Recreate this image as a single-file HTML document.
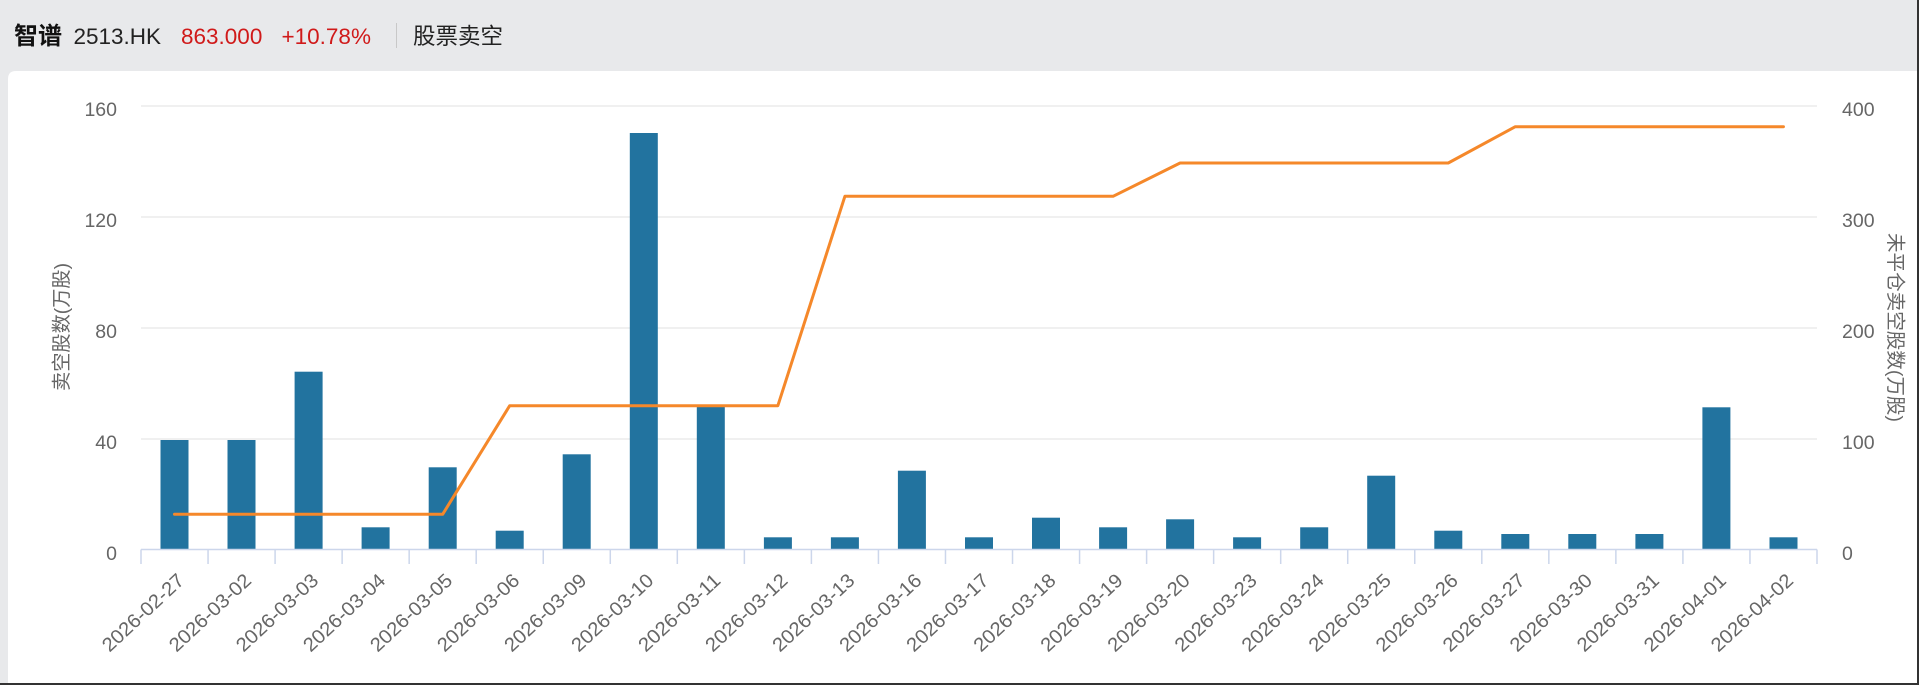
<!DOCTYPE html>
<html>
<head>
<meta charset="utf-8">
<style>
  html, body { margin: 0; padding: 0; background: #e8e9eb; }
  svg { display: block; }
  .hdr { font-family: "Liberation Sans", "Noto Sans CJK SC", sans-serif; }
  .ax { font-family: "Liberation Sans", "Noto Sans CJK SC", sans-serif; fill: #666666; }
</style>
</head>
<body>
<svg width="1919" height="685" viewBox="0 0 1919 685" xmlns="http://www.w3.org/2000/svg">
  <!-- background -->
  <rect x="0" y="0" width="1919" height="685" fill="#e8e9eb"/>
  <!-- card -->
  <path d="M8,79 Q8,71 16,71 L1917,71 L1917,685 L8,685 Z" fill="#ffffff"/>
  <!-- dark frame edges -->
  <rect x="1917" y="0" width="2" height="685" fill="#333333"/>
  <rect x="0" y="683" width="1919" height="2" fill="#333333"/>

  <!-- header -->
  <text class="hdr" x="14" y="44" font-size="24" font-weight="bold" fill="#111111">智谱</text>
  <text class="hdr" x="73.5" y="44" font-size="22.5" fill="#222222">2513.HK</text>
  <text class="hdr" x="181" y="44" font-size="22.5" fill="#d01a1a">863.000</text>
  <text class="hdr" x="281.5" y="44" font-size="22.5" fill="#d01a1a">+10.78%</text>
  <rect x="396" y="23" width="1" height="25" fill="#c8c8c8"/>
  <text class="hdr" x="413" y="44" font-size="22.5" fill="#222222">股票卖空</text>

  <!-- gridlines -->
  <g stroke="#e6e6e6" stroke-width="1.3">
    <line x1="141" y1="106" x2="1817" y2="106"/>
    <line x1="141" y1="217" x2="1817" y2="217"/>
    <line x1="141" y1="328" x2="1817" y2="328"/>
    <line x1="141" y1="439" x2="1817" y2="439"/>
  </g>

  <!-- bars -->
  <g fill="#22739f">
    <rect x="160.5" y="440" width="28" height="109"/>
    <rect x="227.5" y="440" width="28" height="109"/>
    <rect x="294.6" y="371.7" width="28" height="177.3"/>
    <rect x="361.6" y="527.3" width="28" height="21.7"/>
    <rect x="428.7" y="467.3" width="28" height="81.7"/>
    <rect x="495.7" y="530.7" width="28" height="18.3"/>
    <rect x="562.7" y="454.3" width="28" height="94.7"/>
    <rect x="629.8" y="133" width="28" height="416"/>
    <rect x="696.8" y="406.7" width="28" height="142.3"/>
    <rect x="763.9" y="537.3" width="28" height="11.7"/>
    <rect x="830.9" y="537.3" width="28" height="11.7"/>
    <rect x="897.9" y="470.7" width="28" height="78.3"/>
    <rect x="965.0" y="537.3" width="28" height="11.7"/>
    <rect x="1032.0" y="517.7" width="28" height="31.3"/>
    <rect x="1099.1" y="527.3" width="28" height="21.7"/>
    <rect x="1166.1" y="519.3" width="28" height="29.7"/>
    <rect x="1233.1" y="537.3" width="28" height="11.7"/>
    <rect x="1300.2" y="527.3" width="28" height="21.7"/>
    <rect x="1367.2" y="475.7" width="28" height="73.3"/>
    <rect x="1434.3" y="530.7" width="28" height="18.3"/>
    <rect x="1501.3" y="534" width="28" height="15"/>
    <rect x="1568.3" y="534" width="28" height="15"/>
    <rect x="1635.4" y="534" width="28" height="15"/>
    <rect x="1702.4" y="407.3" width="28" height="141.7"/>
    <rect x="1769.5" y="537.3" width="28" height="11.7"/>
  </g>

  <!-- x axis line and ticks -->
  <g stroke="#ccd6eb" stroke-width="1.5">
    <line x1="141" y1="549.5" x2="1817" y2="549.5"/>
    <line x1="141" y1="549.5" x2="141" y2="564"/>
    <line x1="208.04" y1="549.5" x2="208.04" y2="564"/>
    <line x1="275.08" y1="549.5" x2="275.08" y2="564"/>
    <line x1="342.12" y1="549.5" x2="342.12" y2="564"/>
    <line x1="409.16" y1="549.5" x2="409.16" y2="564"/>
    <line x1="476.2" y1="549.5" x2="476.2" y2="564"/>
    <line x1="543.24" y1="549.5" x2="543.24" y2="564"/>
    <line x1="610.28" y1="549.5" x2="610.28" y2="564"/>
    <line x1="677.32" y1="549.5" x2="677.32" y2="564"/>
    <line x1="744.36" y1="549.5" x2="744.36" y2="564"/>
    <line x1="811.4" y1="549.5" x2="811.4" y2="564"/>
    <line x1="878.44" y1="549.5" x2="878.44" y2="564"/>
    <line x1="945.48" y1="549.5" x2="945.48" y2="564"/>
    <line x1="1012.52" y1="549.5" x2="1012.52" y2="564"/>
    <line x1="1079.56" y1="549.5" x2="1079.56" y2="564"/>
    <line x1="1146.6" y1="549.5" x2="1146.6" y2="564"/>
    <line x1="1213.64" y1="549.5" x2="1213.64" y2="564"/>
    <line x1="1280.68" y1="549.5" x2="1280.68" y2="564"/>
    <line x1="1347.72" y1="549.5" x2="1347.72" y2="564"/>
    <line x1="1414.76" y1="549.5" x2="1414.76" y2="564"/>
    <line x1="1481.8" y1="549.5" x2="1481.8" y2="564"/>
    <line x1="1548.84" y1="549.5" x2="1548.84" y2="564"/>
    <line x1="1615.88" y1="549.5" x2="1615.88" y2="564"/>
    <line x1="1682.92" y1="549.5" x2="1682.92" y2="564"/>
    <line x1="1749.96" y1="549.5" x2="1749.96" y2="564"/>
    <line x1="1817" y1="549.5" x2="1817" y2="564"/>
  </g>

  <!-- line series -->
  <polyline fill="none" stroke="#f5882a" stroke-width="3" stroke-linejoin="round" stroke-linecap="round"
    points="174.5,514.3 442.66,514.3 509.7,405.7 777.86,405.7 844.9,196.3 1113.06,196.3 1180.1,163 1448.26,163 1515.3,126.7 1783.46,126.7"/>

  <!-- left y labels -->
  <g class="ax" font-size="19.5" text-anchor="end">
    <text x="117" y="116">160</text>
    <text x="117" y="227">120</text>
    <text x="117" y="338">80</text>
    <text x="117" y="449">40</text>
    <text x="117" y="560">0</text>
  </g>
  <!-- right y labels -->
  <g class="ax" font-size="19.5" text-anchor="start">
    <text x="1842" y="116">400</text>
    <text x="1842" y="227">300</text>
    <text x="1842" y="338">200</text>
    <text x="1842" y="449">100</text>
    <text x="1842" y="560">0</text>
  </g>

  <!-- axis titles -->
  <text class="ax" font-size="19.5" text-anchor="middle" textLength="128" lengthAdjust="spacingAndGlyphs"
    transform="translate(68,327) rotate(-90)">卖空股数(万股)</text>
  <text class="ax" font-size="19.5" text-anchor="middle" textLength="189" lengthAdjust="spacingAndGlyphs"
    transform="translate(1889,327.5) rotate(90)">未平仓卖空股数(万股)</text>

  <!-- x labels -->
  <g class="ax" font-size="19.5" text-anchor="end">
    <text transform="translate(185.5,582) rotate(-43)" textLength="104" lengthAdjust="spacingAndGlyphs">2026-02-27</text>
    <text transform="translate(252.54,582) rotate(-43)" textLength="104" lengthAdjust="spacingAndGlyphs">2026-03-02</text>
    <text transform="translate(319.58,582) rotate(-43)" textLength="104" lengthAdjust="spacingAndGlyphs">2026-03-03</text>
    <text transform="translate(386.62,582) rotate(-43)" textLength="104" lengthAdjust="spacingAndGlyphs">2026-03-04</text>
    <text transform="translate(453.66,582) rotate(-43)" textLength="104" lengthAdjust="spacingAndGlyphs">2026-03-05</text>
    <text transform="translate(520.7,582) rotate(-43)" textLength="104" lengthAdjust="spacingAndGlyphs">2026-03-06</text>
    <text transform="translate(587.74,582) rotate(-43)" textLength="104" lengthAdjust="spacingAndGlyphs">2026-03-09</text>
    <text transform="translate(654.78,582) rotate(-43)" textLength="104" lengthAdjust="spacingAndGlyphs">2026-03-10</text>
    <text transform="translate(721.82,582) rotate(-43)" textLength="104" lengthAdjust="spacingAndGlyphs">2026-03-11</text>
    <text transform="translate(788.86,582) rotate(-43)" textLength="104" lengthAdjust="spacingAndGlyphs">2026-03-12</text>
    <text transform="translate(855.9,582) rotate(-43)" textLength="104" lengthAdjust="spacingAndGlyphs">2026-03-13</text>
    <text transform="translate(922.94,582) rotate(-43)" textLength="104" lengthAdjust="spacingAndGlyphs">2026-03-16</text>
    <text transform="translate(989.98,582) rotate(-43)" textLength="104" lengthAdjust="spacingAndGlyphs">2026-03-17</text>
    <text transform="translate(1057.02,582) rotate(-43)" textLength="104" lengthAdjust="spacingAndGlyphs">2026-03-18</text>
    <text transform="translate(1124.06,582) rotate(-43)" textLength="104" lengthAdjust="spacingAndGlyphs">2026-03-19</text>
    <text transform="translate(1191.1,582) rotate(-43)" textLength="104" lengthAdjust="spacingAndGlyphs">2026-03-20</text>
    <text transform="translate(1258.14,582) rotate(-43)" textLength="104" lengthAdjust="spacingAndGlyphs">2026-03-23</text>
    <text transform="translate(1325.18,582) rotate(-43)" textLength="104" lengthAdjust="spacingAndGlyphs">2026-03-24</text>
    <text transform="translate(1392.22,582) rotate(-43)" textLength="104" lengthAdjust="spacingAndGlyphs">2026-03-25</text>
    <text transform="translate(1459.26,582) rotate(-43)" textLength="104" lengthAdjust="spacingAndGlyphs">2026-03-26</text>
    <text transform="translate(1526.3,582) rotate(-43)" textLength="104" lengthAdjust="spacingAndGlyphs">2026-03-27</text>
    <text transform="translate(1593.34,582) rotate(-43)" textLength="104" lengthAdjust="spacingAndGlyphs">2026-03-30</text>
    <text transform="translate(1660.38,582) rotate(-43)" textLength="104" lengthAdjust="spacingAndGlyphs">2026-03-31</text>
    <text transform="translate(1727.42,582) rotate(-43)" textLength="104" lengthAdjust="spacingAndGlyphs">2026-04-01</text>
    <text transform="translate(1794.46,582) rotate(-43)" textLength="104" lengthAdjust="spacingAndGlyphs">2026-04-02</text>
  </g>
</svg>
</body>
</html>
